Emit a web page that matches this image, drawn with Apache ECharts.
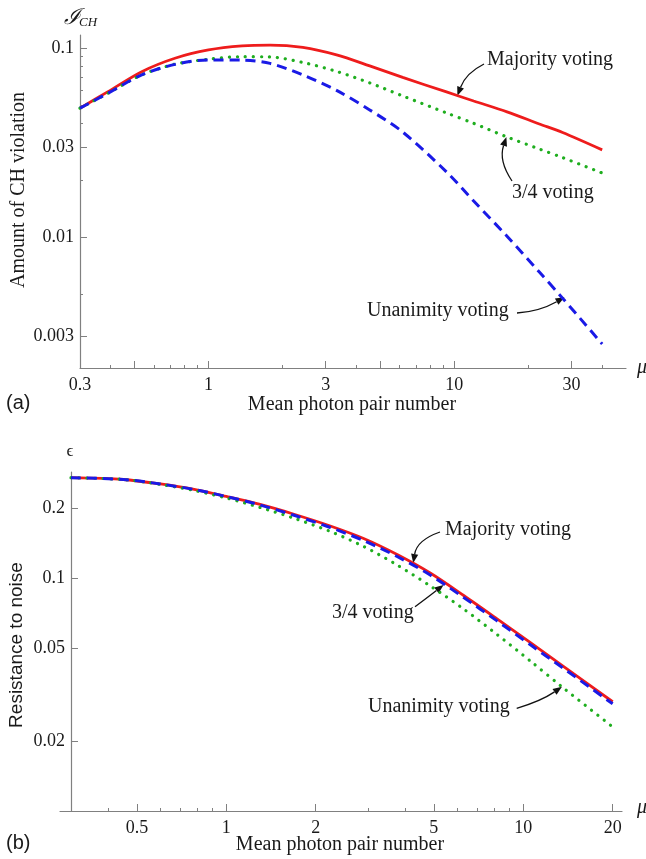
<!DOCTYPE html>
<html>
<head>
<meta charset="utf-8">
<title>CH violation and resistance to noise</title>
<script src="https://cdn.jsdelivr.net/npm/echarts@6.0.0/dist/echarts.min.js"></script>
<style>
  html,body{margin:0;padding:0;background:#fff;}
  #chart{width:646px;height:859px;}
</style>
</head>
<body>
<div id="chart"></div>
<script>
  // ---- (a) amount of CH violation vs mean photon pair number
  const muA = [0.3, 0.39, 0.535, 0.73, 1, 1.37, 1.78, 2.42, 3.32, 4.53, 6.17, 9.3, 12, 16.4, 22.2, 27.6, 40];
  const majorityA = [0.048, 0.0587, 0.0749, 0.0882, 0.0976, 0.1025, 0.1035, 0.1006, 0.0918, 0.0803, 0.0698, 0.0585, 0.0524, 0.0459, 0.0396, 0.0357, 0.0289];
  const threeQuarterA = [0.048, 0.0576, 0.072, 0.082, 0.0871, 0.0899, 0.0896, 0.0838, 0.0751, 0.0653, 0.0557, 0.0453, 0.0399, 0.0338, 0.0292, 0.0263, 0.0218];
  const unanimityA = [0.048, 0.0576, 0.072, 0.0818, 0.0864, 0.0862, 0.0828, 0.072, 0.0596, 0.047, 0.0359, 0.0221, 0.0155, 0.0101, 0.00653, 0.00475, 0.00272];

  // ---- (b) resistance to noise vs mean photon pair number
  const muB = [0.3, 0.45, 0.6, 0.78, 1, 1.3, 1.68, 2.24, 2.9, 3.76, 4.86, 6.3, 8.16, 10.6, 13.5, 20];
  const majorityB = [0.2713, 0.2665, 0.2549, 0.2414, 0.2252, 0.2081, 0.1894, 0.1682, 0.1486, 0.1268, 0.1056, 0.0845, 0.067, 0.0528, 0.0423, 0.0295];
  const threeQuarterB = [0.2713, 0.2665, 0.2549, 0.2414, 0.2252, 0.207, 0.1875, 0.1657, 0.1456, 0.1243, 0.1035, 0.0828, 0.0657, 0.0517, 0.0415, 0.0289];
  const unanimityB = [0.2713, 0.2665, 0.2537, 0.239, 0.2219, 0.202, 0.182, 0.1593, 0.1373, 0.1143, 0.0929, 0.0739, 0.0574, 0.044, 0.0342, 0.023];

  // axis ranges and ticks
  const rangeMuA = [0.3, 50];
  const rangeYA = [0.00203, 0.117];
  const rangeMuB = [0.2755, 21.5];
  const rangeYB = [0.01, 0.287];

  const xLabelsA = [0.3, 1, 3, 10, 30];
  const xLongTicksA = [0.5, 1, 3, 5, 10, 30];
  const xShortTicksA = [0.4, 0.6, 0.7, 0.8, 0.9, 2, 4, 6, 7, 8, 9, 20, 40];
  const yLabelsA = [0.003, 0.01, 0.03, 0.1];
  const yShortTicksA = [0.005, 0.02, 0.04, 0.05, 0.06, 0.07, 0.08, 0.09];

  const xLabelsB = [0.5, 1, 2, 5, 10, 20];
  const xShortTicksB = [0.4, 0.6, 0.7, 0.8, 0.9, 3, 4, 6, 7, 8, 9];
  const yLabelsB = [0.02, 0.05, 0.1, 0.2];

  // where the annotation arrows touch the curves [mu, value]
  const tipMajorityA = [10.3, 0.0559];
  const tipThreeQuarterA = [16.3, 0.0338];
  const tipUnanimityA = [28.1, 0.0048];
  const tipMajorityB = [4.26, 0.1166];
  const tipThreeQuarterB = [5.39, 0.0938];
  const tipUnanimityB = [13.5, 0.0342];

  const AXIS = '#808080';
  const TXT = '#1a1a1a';
  const SERIF = '"Liberation Serif", "Times New Roman", serif';
  const SANS = '"Liberation Sans", Arial, sans-serif';
  const RED = '#ee1c1c', GREEN = '#1fae1f', BLUE = '#1a1ae6';

  const lg = v => Math.log10(v);
  const fmt = v => String(parseFloat(Math.pow(10, v).toPrecision(3)));
  const pts = (mu, vals) => mu.map((m, i) => [lg(m), lg(vals[i])]);

  function xAxes(gi, range, labels, longTicks, shortTicks) {
    const base = {type: 'value', gridIndex: gi, position: 'bottom', min: lg(range[0]), max: lg(range[1]), splitLine: {show: false}};
    return [
      Object.assign({}, base, {
        axisLine: {show: true, onZero: false, lineStyle: {color: AXIS, width: 1.2}},
        axisTick: {show: true, inside: true, length: 7, customValues: longTicks.map(lg), lineStyle: {color: AXIS}},
        axisLabel: {show: true, margin: 8, customValues: labels.map(lg), formatter: fmt, color: TXT, fontFamily: SERIF, fontSize: 18}
      }),
      Object.assign({}, base, {
        axisLine: {show: false, onZero: false},
        axisLabel: {show: false},
        axisTick: {show: shortTicks.length > 0, inside: true, length: 3, customValues: shortTicks.map(lg), lineStyle: {color: AXIS}}
      })
    ];
  }

  function yAxes(gi, range, labels, shortTicks, offset) {
    const base = {type: 'value', gridIndex: gi, position: 'left', offset: offset, min: lg(range[0]), max: lg(range[1]), splitLine: {show: false}};
    return [
      Object.assign({}, base, {
        axisLine: {show: true, onZero: false, lineStyle: {color: AXIS, width: 1.2}},
        axisTick: {show: true, inside: true, length: 7, customValues: labels.map(lg), lineStyle: {color: AXIS}},
        axisLabel: {show: true, margin: 6, customValues: labels.map(lg), formatter: fmt, color: TXT, fontFamily: SERIF, fontSize: 18}
      }),
      Object.assign({}, base, {
        axisLine: {show: false, onZero: false},
        axisLabel: {show: false},
        axisTick: {show: shortTicks.length > 0, inside: true, length: 3, customValues: shortTicks.map(lg), lineStyle: {color: AXIS}}
      })
    ];
  }

  const solid = {color: RED, width: 2.8};
  const dotted = {color: GREEN, width: 3.2, type: [0.1, 7.9], cap: 'round'};
  const dashed = {color: BLUE, width: 3, type: [10, 6]};

  function line(name, axisIdx, mu, vals, style) {
    return {
      name: name, type: 'line', xAxisIndex: axisIdx, yAxisIndex: axisIdx,
      data: pts(mu, vals), showSymbol: false, smooth: 0.3,
      lineStyle: style, itemStyle: {color: style.color}, silent: true
    };
  }

  function text(str, x, y, font, align, extra) {
    return Object.assign({
      type: 'text', x: x, y: y, silent: true,
      style: {text: str, font: font, fill: TXT, align: align || 'left', textAlign: align || 'left',
              verticalAlign: 'middle', textVerticalAlign: 'middle'}
    }, extra || {});
  }

  function arrow(tail, ctrl, tip) {
    const ang = Math.atan2(tip[1] - ctrl[1], tip[0] - ctrl[0]);
    const L = 9, W = 3.6;
    const bx = tip[0] - L * Math.cos(ang), by = tip[1] - L * Math.sin(ang);
    const nx = -Math.sin(ang), ny = Math.cos(ang);
    return [
      {type: 'bezierCurve', silent: true,
       shape: {x1: tail[0], y1: tail[1], cpx1: ctrl[0], cpy1: ctrl[1], x2: bx, y2: by},
       style: {stroke: '#111', lineWidth: 1.3, fill: null}},
      {type: 'polygon', silent: true,
       shape: {points: [tip, [bx + nx * W, by + ny * W], [bx - nx * W, by - ny * W]]},
       style: {fill: '#111'}}
    ];
  }

  const chart = echarts.init(document.getElementById('chart'));

  const labelsGraphic = [
    text('ℐ', 64, 18, 'italic 22px ' + SERIF),
    text('CH', 79, 23, 'italic 13px ' + SERIF),
    text('Amount of CH violation', 19, 190, '20px ' + SERIF, 'center', {rotation: Math.PI / 2}),
    text('Mean photon pair number', 352, 405, '20px ' + SERIF, 'center'),
    text('(a)', 6, 403, '20px ' + SANS),
    text('μ', 637, 368, 'italic 20px ' + SERIF),
    text('Majority voting', 487, 60, '20px ' + SERIF),
    text('3/4 voting', 512, 193, '20px ' + SERIF),
    text('Unanimity voting', 367, 311, '20px ' + SERIF),

    text('ϵ', 70, 452, '17px ' + SERIF, 'center'),
    text('Resistance to noise', 17, 645, '19px ' + SANS, 'center', {rotation: Math.PI / 2}),
    text('Mean photon pair number', 340, 845, '20px ' + SERIF, 'center'),
    text('(b)', 6, 843, '20px ' + SANS),
    text('μ', 637, 808, 'italic 20px ' + SERIF),
    text('Majority voting', 445, 530, '20px ' + SERIF),
    text('3/4 voting', 332, 613, '20px ' + SERIF),
    text('Unanimity voting', 368, 707, '20px ' + SERIF)
  ];

  const option = {
    animation: false,
    backgroundColor: '#fff',
    grid: [
      {left: 80, top: 35, width: 546, height: 333, containLabel: false, outerBoundsMode: 'none'},
      {left: 60, top: 472, width: 562, height: 339, containLabel: false, outerBoundsMode: 'none'}
    ],
    xAxis: xAxes(0, rangeMuA, xLabelsA, xLongTicksA, xShortTicksA)
      .concat(xAxes(1, rangeMuB, xLabelsB, xLabelsB, xShortTicksB)),
    yAxis: yAxes(0, rangeYA, yLabelsA, yShortTicksA, 0)
      .concat(yAxes(1, rangeYB, yLabelsB, [], -11)),
    series: [
      line('Majority voting', 0, muA, majorityA, solid),
      line('3/4 voting', 0, muA, threeQuarterA, dotted),
      line('Unanimity voting', 0, muA, unanimityA, dashed),
      line('Majority voting', 2, muB, majorityB, solid),
      line('Unanimity voting', 2, muB, unanimityB, dotted),
      line('3/4 voting', 2, muB, threeQuarterB, dashed)
    ],
    graphic: labelsGraphic
  };
  chart.setOption(option);

  const px = (idx, p) => chart.convertToPixel({xAxisIndex: idx, yAxisIndex: idx}, [lg(p[0]), lg(p[1])]);

  const arrows = [].concat(
    arrow([484, 64], [466, 73], px(0, tipMajorityA)),
    arrow([512, 181], [498.5, 161], px(0, tipThreeQuarterA)),
    arrow([517, 313], [539, 311.6], px(0, tipUnanimityA)),
    arrow([440, 532], [417, 540], px(2, tipMajorityB)),
    arrow([415, 606.7], [427.4, 597.5], px(2, tipThreeQuarterB)),
    arrow([516.7, 708.3], [540.8, 701.2], px(2, tipUnanimityB))
  );
  chart.setOption({graphic: labelsGraphic.concat(arrows)});

  window.addEventListener('resize', function () {
    chart.resize();
  });
</script>
</body>
</html>
